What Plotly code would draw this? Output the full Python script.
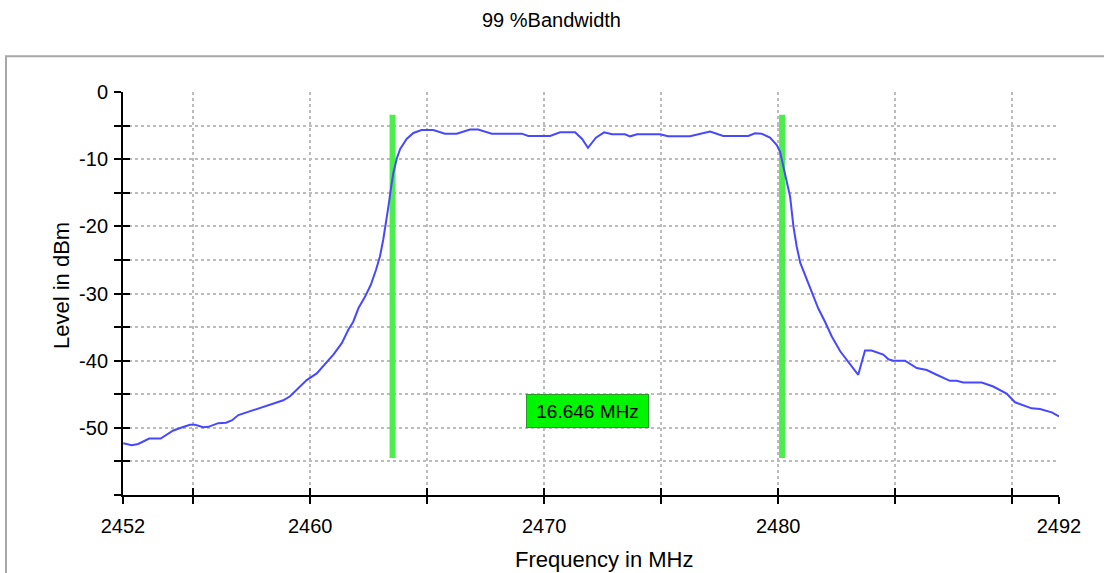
import plotly.graph_objects as go

# ---------------- data ----------------
freq_mhz = [2452.01, 2452.37, 2452.65, 2452.87, 2453.12, 2453.61, 2454.15, 2454.51, 2454.86, 2455.08,
            2455.43, 2455.65, 2456.07, 2456.40, 2456.65, 2456.93, 2457.29, 2457.71, 2458.28, 2458.85,
            2459.14, 2459.42, 2459.85, 2460.28, 2460.63, 2460.99, 2461.35, 2461.63, 2461.84, 2462.06,
            2462.34, 2462.59, 2462.81, 2462.98, 2463.12, 2463.24, 2463.34, 2463.44, 2463.55, 2463.70,
            2463.84, 2464.12, 2464.41, 2464.76, 2465.26, 2465.76, 2466.26, 2466.83, 2467.18, 2467.76,
            2469.04, 2469.32, 2470.25, 2470.68, 2471.32, 2471.62, 2471.87, 2472.21, 2472.56, 2472.90,
            2473.45, 2473.67, 2473.97, 2474.95, 2475.29, 2476.23, 2476.66, 2477.09, 2477.65, 2478.72,
            2479.01, 2479.29, 2479.65, 2479.94, 2480.08, 2480.29, 2480.51, 2480.65, 2480.79, 2480.94,
            2481.29, 2481.71, 2482.00, 2482.29, 2482.65, 2483.07, 2483.42, 2483.71, 2483.99, 2484.49,
            2484.71, 2484.92, 2485.42, 2485.92, 2486.35, 2486.77, 2487.34, 2487.63, 2487.91, 2488.70,
            2489.19, 2489.76, 2490.12, 2490.83, 2491.19, 2491.69, 2492.00]
level_dbm = [-52.3, -52.6, -52.4, -52.0, -51.6, -51.6, -50.4, -49.95, -49.55, -49.55,
             -49.9, -49.85, -49.3, -49.25, -48.9, -48.1, -47.7, -47.2, -46.6, -45.9,
             -45.3, -44.3, -42.9, -41.9, -40.6, -39.1, -37.4, -35.4, -34.2, -32.2,
             -30.5, -28.7, -26.5, -24.5, -22.0, -19.5, -17.1, -14.6, -12.1, -9.9,
             -8.5, -7.0, -6.1, -5.65, -5.65, -6.2, -6.2, -5.6, -5.6, -6.2,
             -6.2, -6.55, -6.55, -6.0, -6.0, -7.0, -8.3, -6.8, -6.0, -6.3,
             -6.3, -6.6, -6.3, -6.3, -6.6, -6.6, -6.3, -5.9, -6.55, -6.55,
             -6.15, -6.2, -6.8, -7.9, -8.9, -12.1, -15.6, -20.0, -23.0, -25.4,
             -28.5, -32.2, -34.2, -36.4, -38.6, -40.5, -42.1, -38.5, -38.5, -39.1,
             -39.8, -40.0, -40.0, -41.1, -41.4, -42.1, -43.0, -43.0, -43.25, -43.25,
             -43.85, -44.9, -46.2, -47.1, -47.2, -47.7, -48.3]

bw_edges_mhz = [2463.52, 2480.166]
bw_marker_level = [-3.4, -54.5]
bw_label = "16.646 MHz"
bw_label_pos = (2471.85, -47.45)

x_tickvals = [2452, 2455, 2460, 2465, 2470, 2475, 2480, 2485, 2490, 2492]
x_ticktext = ["2452", "", "2460", "", "2470", "", "2480", "", "", "2492"]
y_tickvals = [0, -5, -10, -15, -20, -25, -30, -35, -40, -45, -50, -55, -60]
y_ticktext = ["0", "", "-10", "", "-20", "", "-30", "", "-40", "", "-50", "", ""]

title_text = "99 %Bandwidth"
x_title = "Frequency in MHz"
y_title = "Level in dBm"

# ---------------- figure ----------------
SANS = "Liberation Sans, Arial, sans-serif"

fig = go.Figure()

for xe in bw_edges_mhz:
    fig.add_trace(go.Scatter(x=[xe, xe], y=bw_marker_level, mode="lines",
                             line=dict(color="#4cee4c", width=6), hoverinfo="skip",
                             showlegend=False))

fig.add_trace(go.Scatter(x=freq_mhz, y=level_dbm, mode="lines",
                         line=dict(color="#4848ff", width=2), showlegend=False))

# invisible trace for the overlay axes (inner halves of the crossing ticks)
fig.add_trace(go.Scatter(x=[x_tickvals[0]], y=[y_tickvals[-1]], xaxis="x2", yaxis="y2",
                         mode="markers", marker=dict(opacity=0), hoverinfo="skip",
                         showlegend=False))

axis_common = dict(showline=True, linecolor="black", linewidth=2, ticks="outside",
                   ticklen=7, tickwidth=2, tickcolor="black", zeroline=False,
                   tickfont=dict(family=SANS, size=20, color="black"),
                   gridcolor="#bcbcbc", griddash="dot", gridwidth=1.5)

fig.update_layout(
    width=1104, height=573, autosize=False,
    margin=dict(l=123, r=45, t=92, b=78),
    paper_bgcolor="white", plot_bgcolor="white",
    xaxis=dict(range=[2452, 2492], tickvals=x_tickvals, ticktext=x_ticktext,
               showgrid=True, ticklabelstandoff=5, **axis_common),
    yaxis=dict(range=[-60, 0], tickvals=y_tickvals, ticktext=y_ticktext,
               showgrid=True, ticklabelstandoff=2, **axis_common),
    xaxis2=dict(range=[2452, 2492], overlaying="x", anchor="y2", side="bottom",
                tickvals=x_tickvals, showticklabels=False, ticks="inside", ticklen=7,
                tickwidth=2, tickcolor="black", showgrid=False, zeroline=False,
                showline=False),
    yaxis2=dict(range=[-60, 0], overlaying="y", anchor="x2", side="left",
                tickvals=y_tickvals, showticklabels=False, ticks="inside", ticklen=7,
                tickwidth=2, tickcolor="black", showgrid=False, zeroline=False,
                showline=False),
    shapes=[dict(type="rect", xref="paper", yref="paper", x0=-0.125, x1=1.06,
                 y0=-0.3, y1=1.089, line=dict(color="#a8a8a8", width=2),
                 fillcolor="rgba(0,0,0,0)", layer="below")],
    annotations=[
        dict(text=title_text, xref="paper", yref="paper", x=0.458, y=1.179,
             xanchor="center", yanchor="middle", showarrow=False,
             font=dict(family=SANS, size=20, color="black")),
        dict(text=x_title, xref="paper", yref="paper", x=0.514, y=-0.161,
             xanchor="center", yanchor="middle", showarrow=False,
             font=dict(family=SANS, size=22, color="black")),
        dict(text=y_title, xref="paper", yref="paper", x=-0.065, y=0.519,
             xanchor="center", yanchor="middle", showarrow=False, textangle=-90,
             font=dict(family=SANS, size=22, color="black")),
        dict(text=bw_label, x=bw_label_pos[0], y=bw_label_pos[1], xref="x", yref="y",
             xanchor="center", yanchor="middle", showarrow=False,
             bgcolor="#00f500", bordercolor="#2a9a2a", borderwidth=1, borderpad=2,
             width=117, height=28,
             font=dict(family=SANS, size=19, color="black")),
    ],
)

fig.write_html("out.html", post_script="document.body.style.margin='0';",
               config={"displayModeBar": False})
